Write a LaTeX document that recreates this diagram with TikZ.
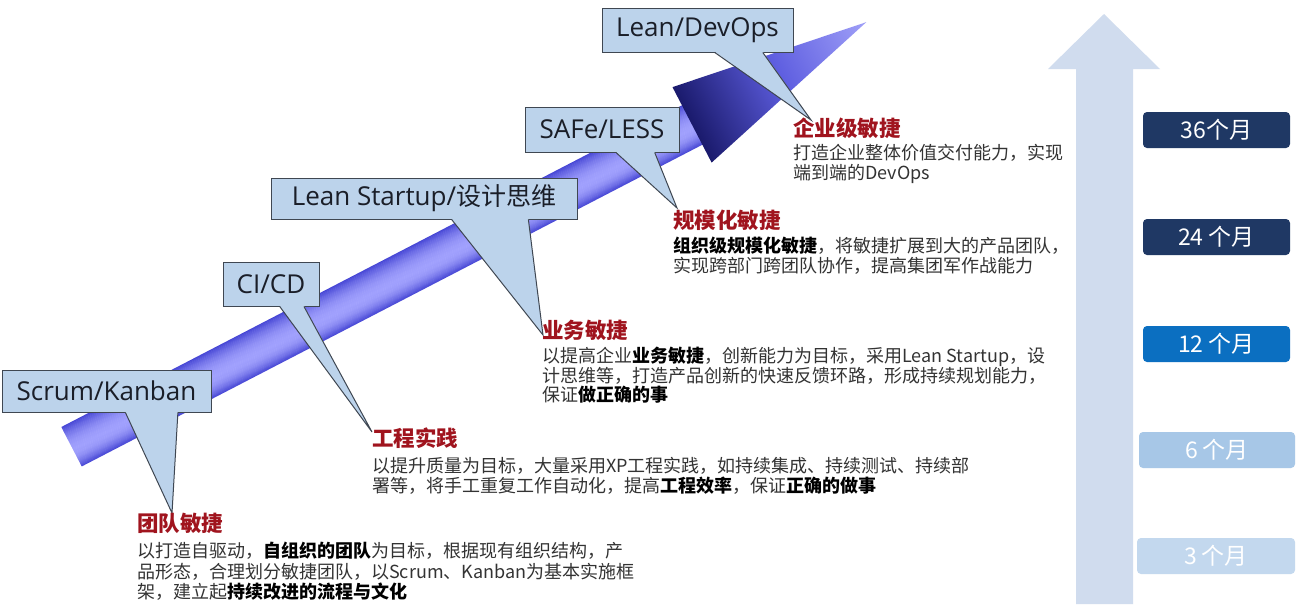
\documentclass[tikz,border=0pt]{standalone}
\usepackage{fontspec}
\setmainfont{Noto Sans CJK SC}
\newfontfamily\latf{Open Sans}
\usetikzlibrary{calc}
\definecolor{calloutfill}{HTML}{BCD3EB}
\definecolor{calloutline}{HTML}{3F4752}
\definecolor{callouttext}{HTML}{1A1E28}
\definecolor{bartop}{HTML}{4444D4}
\definecolor{barmid}{HTML}{A0A0FD}
\definecolor{headback}{HTML}{1A1A6C}
\definecolor{headmid}{HTML}{5E5EE0}
\definecolor{headtip}{HTML}{A0A0F8}
\definecolor{varrow}{HTML}{D0DCEE}
\definecolor{navy}{HTML}{1F3864}
\definecolor{midblue}{HTML}{0B6FC1}
\definecolor{lightblue}{HTML}{A7C7E7}
\definecolor{paleblue}{HTML}{C3D8EE}
\definecolor{headred}{HTML}{A0141E}
\definecolor{bodygray}{HTML}{333333}
\newcommand\kw[1]{{\bfseries\color{black}#1}}
\newcommand\callptr[2]{%
  \fill[calloutfill] ($(#1.south west)!0.59!(#1.south east)+(0,-0.7)$) -- (#2) -- ($(#1.south west)!0.84!(#1.south east)+(0,-0.7)$) -- cycle;
  \draw[calloutline, line width=1pt] ($(#1.south west)!0.59!(#1.south east)$) -- (#2) -- ($(#1.south west)!0.84!(#1.south east)$);}
\begin{document}
\begin{tikzpicture}[x=1pt,y=-1pt,
  callbox/.style={draw=calloutline, fill=calloutfill, line width=1pt, inner sep=0pt, text=callouttext, font=\latf\fontsize{26}{30}\selectfont},
  headline/.style={anchor=base west, inner sep=0pt, text=headred, font=\bfseries\fontsize{21.5}{24}\selectfont},
  bodyline/.style={anchor=base west, inner sep=0pt, text=bodygray, font=\fontsize{18}{20}\selectfont},
  month/.style={rounded corners=4pt, minimum width=147pt, minimum height=36pt, inner sep=0pt, text=white, font=\fontsize{23}{25}\selectfont}]
\fill[white] (0,0) rectangle (1296,606);
\useasboundingbox (0,0) rectangle (1296,606);

% vertical timeline arrow
\fill[varrow] (1104,14) -- (1160,69) -- (1133,69) -- (1133,604) -- (1076,604) -- (1076,69) -- (1048,69) -- cycle;

% diagonal arrow
\begin{scope}[transform canvas={shift={(71.5,446.5)},rotate=27.4}]
  \foreach \i in {0,...,43} {
    \pgfmathsetmacro\yy{-22+\i}
    \pgfmathsetmacro\dd{\yy+0.5-4}
    \pgfmathsetmacro\p{ifthenelse(\dd<0, 100*(1-(\dd/26)^2), 100*(1-(\dd/18.5)^2))}
    \fill[barmid!\p!bartop] (0,\yy) rectangle (701,\yy+1.4);
  }
  \shade[left color=headback, right color=headtip, middle color=headmid] (699,-42.5) -- (901,-11) -- (699,42.5) -- cycle;
\end{scope}

% tips of the callouts
\coordinate (t1) at (172,513);
\coordinate (t2) at (372,432);
\coordinate (t3) at (543,335);
\coordinate (t4) at (677,208);
\coordinate (t5) at (811,120);

% callout boxes
\node[callbox, minimum width=209pt, minimum height=42pt] (c1) at (106.5,391) {Scrum/Kanban};
\callptr{c1}{t1}
\node[callbox, minimum width=96pt, minimum height=44pt] (c2) at (271,284) {CI/CD};
\callptr{c2}{t2}
\node[callbox, minimum width=306pt, minimum height=41pt] (c3) at (424,198.5) {Lean Startup/{\rmfamily\fontsize{25}{30}\selectfont 设计思维}};
\callptr{c3}{t3}
\node[callbox, minimum width=154pt, minimum height=45pt] (c4) at (602,129.5) {SAFe/LESS};
\callptr{c4}{t4}
\node[callbox, minimum width=191pt, minimum height=44pt] (c5) at (697.5,30) {Lean/DevOps};
\callptr{c5}{t5}

% block A
\node[headline] (ha) at (137,531) {团队敏捷};
\node[bodyline] (a1) at (137,557) {以打造自驱动，\kw{自组织的团队}为目标，根据现有组织结构，产};
\node[bodyline] (a2) at (137,578) {品形态，合理划分敏捷团队，以Scrum、Kanban为基本实施框};
\node[bodyline] (a3) at (137,598) {架，建立起\kw{持续改进的流程与文化}};

% block B
\node[headline] (hb) at (372,446) {工程实践};
\node[bodyline] (b1) at (372,472) {以提升质量为目标，大量采用XP工程实践，如持续集成、持续测试、持续部};
\node[bodyline] (b2) at (372,492) {署等，将手工重复工作自动化，提高\kw{工程效率}，保证\kw{正确的做事}};

% block C
\node[headline] (hc) at (542,338) {业务敏捷};
\node[bodyline] (c1l) at (542,362) {以提高企业\kw{业务敏捷}，创新能力为目标，采用Lean Startup，设};
\node[bodyline] (c2l) at (542,382) {计思维等，打造产品创新的快速反馈环路，形成持续规划能力，};
\node[bodyline] (c3l) at (542,401) {保证\kw{做正确的事}};

% block D
\node[headline] (hd) at (673,228) {规模化敏捷};
\node[bodyline] (d1) at (673,252) {\kw{组织级规模化敏捷}，将敏捷扩展到大的产品团队，};
\node[bodyline] (d2) at (673,272) {实现跨部门跨团队协作，提高集团军作战能力};

% block E
\node[headline] (he) at (793,136) {企业级敏捷};
\node[bodyline] (e1) at (793,159) {打造企业整体价值交付能力，实现};
\node[bodyline] (e2) at (793,179) {端到端的DevOps};

% month boxes
\node[month, fill=navy] (m36) at (1216.5,130) {36个月};
\node[month, fill=navy] (m24) at (1216.5,237) {24 个月};
\node[month, fill=midblue] (m12) at (1216.5,344) {12 个月};
\node[month, fill=lightblue, minimum width=156pt] (m6) at (1217,450) {6 个月};
\node[month, fill=paleblue, minimum width=158pt] (m3) at (1216,556) {3 个月};
\end{tikzpicture}
\end{document}
